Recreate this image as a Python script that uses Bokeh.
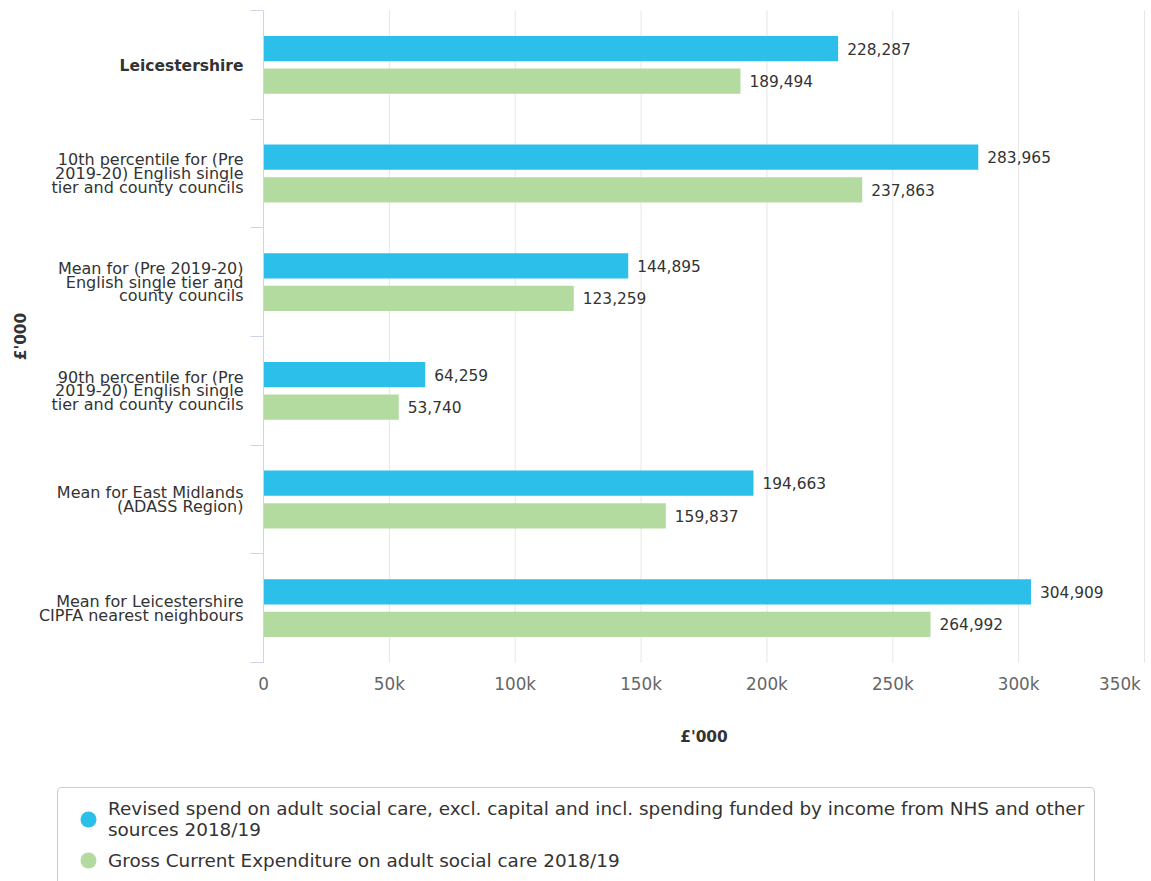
from bokeh.plotting import figure
from bokeh.models import (Range1d, FixedTicker, LinearAxis,
                          Legend, LegendItem, ColumnDataSource)
from bokeh.embed import file_html
from bokeh.resources import INLINE
from bokeh.core.properties import value

# ---------------- data ----------------
categories = [
    "Leicestershire",
    "10th percentile for (Pre\n2019-20) English single\ntier and county councils",
    "Mean for (Pre 2019-20)\nEnglish single tier and\ncounty councils",
    "90th percentile for (Pre\n2019-20) English single\ntier and county councils",
    "Mean for East Midlands\n(ADASS Region)",
    "Mean for Leicestershire\nCIPFA nearest neighbours",
]
revised_spend = [228287, 283965, 144895, 64259, 194663, 304909]
gross_expenditure = [189494, 237863, 123259, 53740, 159837, 264992]
series_names = [
    "Revised spend on adult social care, excl. capital and incl. spending funded by income from NHS and other\nsources 2018/19",
    "Gross Current Expenditure on adult social care 2018/19",
]
x_ticks = [0, 50000, 100000, 150000, 200000, 250000, 300000, 350000]
x_tick_labels = ["0", "50k", "100k", "150k", "200k", "250k", "300k", "350k"]
axis_title = "£'000"

# ---------------- layout / styling ----------------
W, H = 1151, 881                 # canvas
PX_LEFT, PX_RIGHT = 263, 1144    # pixel span of the value axis (0 .. max tick)
PX_TOP, PX_BOTTOM = 10, 662      # pixel span of the category bands
BLUE = "#2bbfe9"
GREEN = "#b3dba0"
FONT = "DejaVu Sans"
n = len(categories)
centers = [i + 0.5 for i in range(n)]
bounds = [float(i) for i in range(n + 1)]
offset = 0.15
bar_h = 0.232

xpp = x_ticks[-1] / (PX_RIGHT - PX_LEFT)
ypp = n / (PX_BOTTOM - PX_TOP)
x_range = Range1d(-PX_LEFT * xpp, x_ticks[-1] + (W - PX_RIGHT) * xpp)
y_range = Range1d(n + (H - PX_BOTTOM) * ypp, -PX_TOP * ypp)

p = figure(width=W, height=H, x_range=x_range, y_range=y_range,
           x_axis_type=None, y_axis_type=None,
           output_backend="svg", toolbar_location=None,
           min_border_left=0, min_border_right=0, min_border_top=0,
           min_border_bottom=0)
p.outline_line_color = None
p.background_fill_color = "white"

# vertical grid lines across the category bands
p.segment(x0=x_ticks, x1=x_ticks, y0=[bounds[0]] * len(x_ticks),
          y1=[bounds[-1]] * len(x_ticks), line_color="#e6e6e6", line_width=1)

src_b = ColumnDataSource(dict(y=[c - offset for c in centers], v=revised_spend,
                              t=[f"{v:,}" for v in revised_spend]))
src_g = ColumnDataSource(dict(y=[c + offset for c in centers], v=gross_expenditure,
                              t=[f"{v:,}" for v in gross_expenditure]))

p.hbar(y="y", left=0, right="v", height=bar_h, source=src_b,
       fill_color=BLUE, line_color=None)
p.hbar(y="y", left=0, right="v", height=bar_h, source=src_g,
       fill_color=GREEN, line_color=None)

for src in (src_b, src_g):
    p.text(x="v", y="y", text="t", source=src, x_offset=9,
           text_align="left", text_baseline="middle",
           text_font=value(FONT), text_font_size="15.4px", text_color="#333333")

# x axis, pinned to the bottom of the category bands
xlab = {t: lab for t, lab in zip(x_ticks, x_tick_labels)}
xlab[x_ticks[-1]] = x_tick_labels[-1] + "\u00a0" * 2   # keep last label inside the page
xa = LinearAxis(fixed_location=bounds[-1], bounds=(x_ticks[0], x_ticks[-1]),
                ticker=FixedTicker(ticks=x_ticks), major_label_overrides=xlab,
                axis_line_color=None, major_tick_line_color=None,
                minor_tick_line_color=None,
                major_label_standoff=5, major_label_text_font=FONT,
                major_label_text_font_size="16.8px", major_label_text_color="#666666",
                axis_label=axis_title, axis_label_standoff=31,
                axis_label_text_font=FONT, axis_label_text_font_size="15.4px",
                axis_label_text_font_style="bold", axis_label_text_color="#333333")
p.add_layout(xa, "below")

# y axis, pinned at value 0: category labels + band boundary ticks
overrides = {c: lab for c, lab in zip(centers, categories)}
overrides[centers[0]] = ""
ya = LinearAxis(fixed_location=x_ticks[0], bounds=(bounds[0], bounds[-1]),
                ticker=FixedTicker(ticks=centers, minor_ticks=bounds),
                major_label_overrides=overrides,
                axis_line_color="#ccd6eb",
                major_tick_out=0, major_tick_in=0, major_tick_line_color=None,
                minor_tick_out=13, minor_tick_in=0, minor_tick_line_color="#ccd6eb",
                major_label_standoff=7, major_label_text_font=FONT,
                major_label_text_font_size="16px", major_label_text_color="#333333",
                major_label_text_line_height=0.72,
                axis_label=axis_title, axis_label_standoff=6,
                axis_label_text_font=FONT, axis_label_text_font_size="15.4px",
                axis_label_text_font_style="bold", axis_label_text_color="#333333")
p.add_layout(ya, "left")

# highlighted authority label in bold
src_hl = ColumnDataSource(dict(x=[x_ticks[0]], y=[centers[0]], t=[categories[0]]))
p.text(x="x", y="y", text="t", source=src_hl, x_offset=-20, y_offset=1,
       text_align="right", text_baseline="middle",
       text_font=value(FONT), text_font_size="15.5px", text_font_style="bold",
       text_color="#333333")

# legend (glyph-only renderers carrying the series colours)
nan = float("nan")
r1 = p.scatter(x=[nan], y=[nan], marker="circle", size=16, fill_color=BLUE, line_color=None)
r2 = p.scatter(x=[nan], y=[nan], marker="circle", size=16, fill_color=GREEN, line_color=None)
legend = Legend(items=[LegendItem(label=series_names[0], renderers=[r1]),
                       LegendItem(label=series_names[1], renderers=[r2])],
                location=(57, -10), orientation="vertical",
                border_line_color="#999999", border_line_width=1,
                background_fill_color="white", background_fill_alpha=1,
                label_text_font=FONT, label_text_font_size="18.4px",
                label_text_color="#333333", label_text_line_height=1.03,
                glyph_width=40, glyph_height=40, label_standoff=0,
                padding=10, spacing=0, margin=0)
if "border_radius" in Legend.properties():
    legend.border_radius = 5
p.add_layout(legend, "center")

open("out.html", "w").write(file_html(p, INLINE, "chart"))
